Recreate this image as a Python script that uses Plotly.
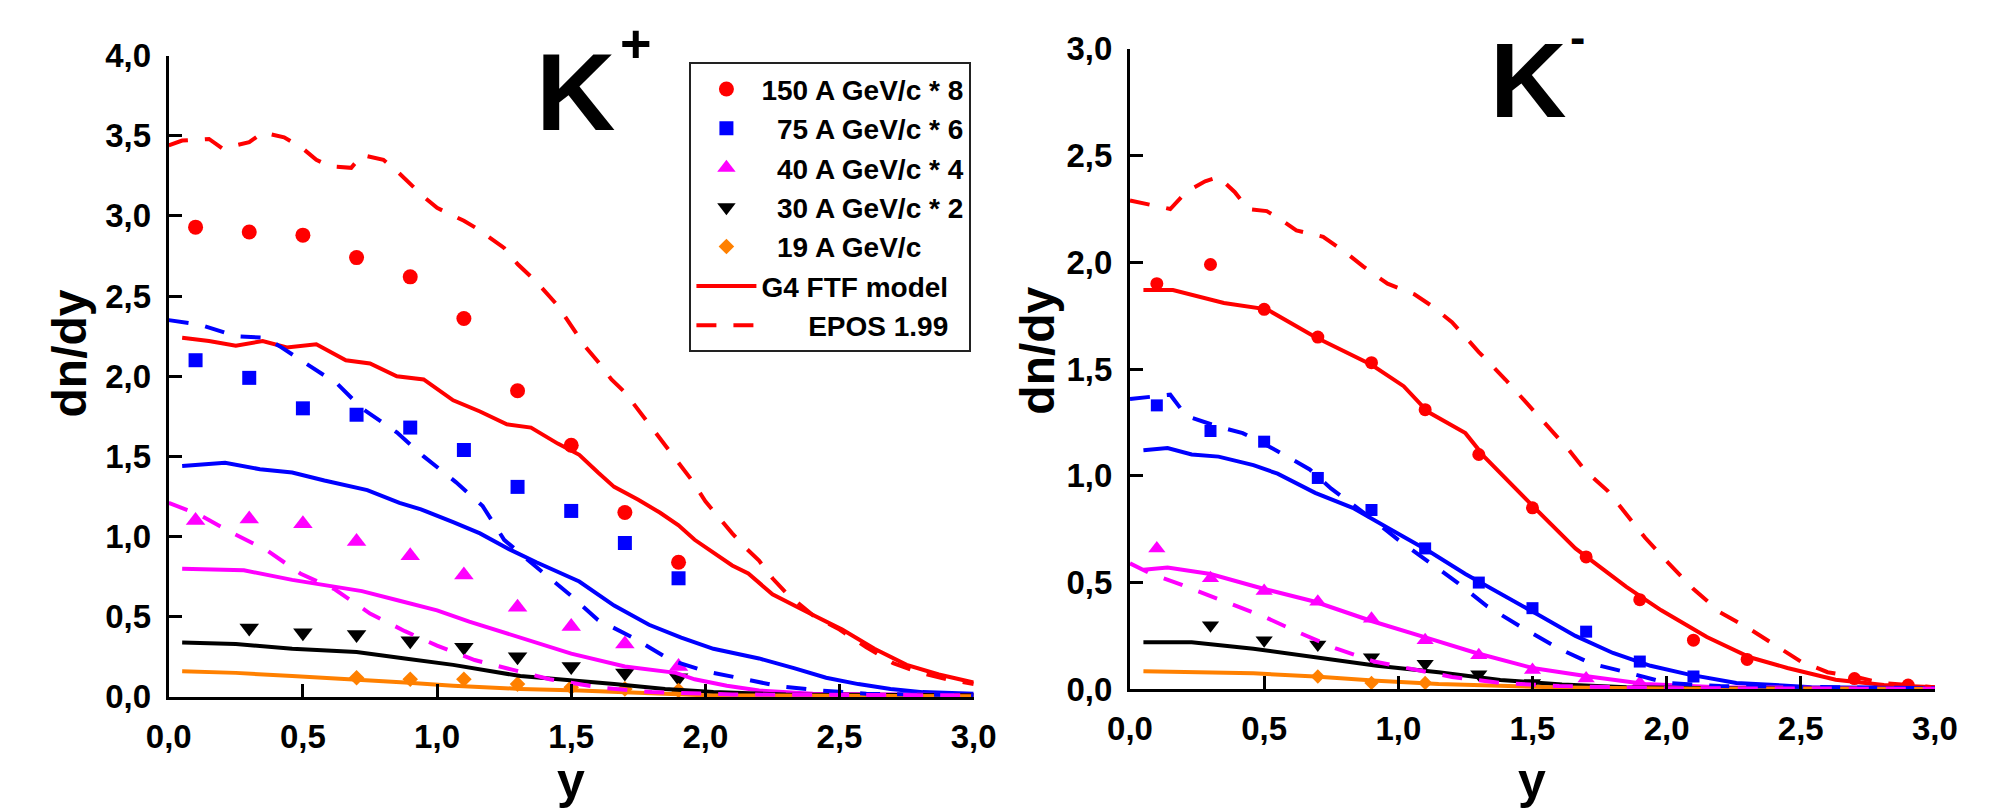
import plotly.graph_objects as go

FONT = "Liberation Sans"
NARROW = "Liberation Sans Narrow, Liberation Sans"
W, H = 1990, 811

RED, BLUE, MAG, BLK, ORG = "#ff0000", "#0000ff", "#ff00ff", "#000000", "#ff8000"

# ---------------- K+ (left panel) : data points ----------------
kp_x10 = [0.1, 0.3, 0.5, 0.7, 0.9, 1.1, 1.3, 1.5, 1.7, 1.9]
kp_150 = [2.93, 2.90, 2.88, 2.74, 2.62, 2.36, 1.91, 1.57, 1.15, 0.84]
kp_75 = [2.10, 1.99, 1.80, 1.76, 1.68, 1.54, 1.31, 1.16, 0.96, 0.74]
kp_40 = [1.10, 1.11, 1.08, 0.97, 0.88, 0.76, 0.56, 0.44, 0.33, 0.19]
kp_30_x = [0.3, 0.5, 0.7, 0.9, 1.1, 1.3, 1.5, 1.7, 1.9]
kp_30 = [0.43, 0.40, 0.39, 0.35, 0.31, 0.25, 0.19, 0.15, 0.12]
kp_19_x = [0.7, 0.9, 1.1, 1.3, 1.5, 1.7, 1.9]
kp_19 = [0.12, 0.11, 0.11, 0.08, 0.06, 0.05, 0.04]

# K+ : G4 FTF model (solid)
kp_g4_150_x = [0.05, 0.15, 0.25, 0.35, 0.44, 0.55, 0.66, 0.75, 0.85, 0.95, 1.06, 1.16, 1.26, 1.35, 1.45, 1.53,
               1.60, 1.66, 1.75, 1.83, 1.90, 1.96, 2.03, 2.10, 2.16, 2.25, 2.39, 2.51, 2.63, 2.75, 2.87, 3.0]
kp_g4_150_y = [2.24, 2.22, 2.19, 2.22, 2.18, 2.20, 2.10, 2.08, 2.00, 1.98, 1.85, 1.78, 1.70, 1.68, 1.58, 1.51,
               1.40, 1.31, 1.23, 1.15, 1.07, 0.98, 0.90, 0.82, 0.77, 0.64, 0.52, 0.42, 0.30, 0.20, 0.14, 0.09]
kp_g4_75_x = [0.05, 0.21, 0.34, 0.46, 0.58, 0.74, 0.86, 0.94, 1.06, 1.16, 1.27, 1.37, 1.53, 1.66, 1.79, 1.91,
              2.03, 2.20, 2.33, 2.45, 2.57, 2.69, 2.81, 3.0]
kp_g4_75_y = [1.44, 1.46, 1.42, 1.40, 1.35, 1.29, 1.21, 1.17, 1.09, 1.02, 0.92, 0.84, 0.72, 0.57, 0.45, 0.37,
              0.30, 0.24, 0.18, 0.12, 0.08, 0.05, 0.03, 0.02]
kp_g4_40_x = [0.05, 0.28, 0.46, 0.72, 0.86, 1.00, 1.12, 1.27, 1.40, 1.50, 1.70, 1.89, 1.96, 2.08, 2.20, 2.40, 3.0]
kp_g4_40_y = [0.80, 0.79, 0.73, 0.66, 0.60, 0.54, 0.47, 0.39, 0.32, 0.27, 0.19, 0.15, 0.11, 0.07, 0.04, 0.02, 0.01]
kp_g4_30_x = [0.05, 0.25, 0.46, 0.70, 0.88, 1.06, 1.31, 1.53, 1.66, 1.85, 2.03, 2.30, 3.0]
kp_g4_30_y = [0.34, 0.33, 0.30, 0.28, 0.24, 0.20, 0.13, 0.10, 0.08, 0.05, 0.03, 0.015, 0.01]
kp_g4_19_x = [0.05, 0.25, 0.46, 0.70, 0.88, 1.06, 1.31, 1.53, 1.80, 2.00, 3.0]
kp_g4_19_y = [0.16, 0.15, 0.13, 0.11, 0.09, 0.07, 0.05, 0.04, 0.02, 0.01, 0.005]

# K+ : EPOS 1.99 (dashed)
kp_ep_150_x = [0.0, 0.05, 0.15, 0.20, 0.30, 0.35, 0.43, 0.50, 0.55, 0.60, 0.68, 0.72, 0.80, 0.85, 0.95, 1.00,
               1.10, 1.15, 1.20, 1.25, 1.30, 1.37, 1.45, 1.50, 1.55, 1.60, 1.65, 1.70, 1.75, 1.80, 1.85, 1.90,
               1.95, 2.00, 2.05, 2.10, 2.15, 2.20, 2.25, 2.30, 2.35, 2.40, 2.50, 2.60, 2.70, 2.80, 2.90, 3.0]
kp_ep_150_y = [3.44, 3.47, 3.48, 3.42, 3.46, 3.52, 3.49, 3.42, 3.35, 3.31, 3.30, 3.38, 3.35, 3.28, 3.12, 3.05,
               2.97, 2.92, 2.86, 2.80, 2.70, 2.59, 2.44, 2.32, 2.19, 2.09, 1.98, 1.90, 1.79, 1.69, 1.58, 1.46,
               1.35, 1.22, 1.12, 1.02, 0.93, 0.85, 0.74, 0.65, 0.58, 0.51, 0.42, 0.31, 0.21, 0.15, 0.11, 0.08]
kp_ep_75_x = [0.0, 0.12, 0.25, 0.36, 0.42, 0.50, 0.63, 0.72, 0.85, 0.95, 1.07, 1.17, 1.25, 1.37, 1.50, 1.60,
              1.73, 1.87, 2.00, 2.15, 2.28, 2.43, 2.60, 3.0]
kp_ep_75_y = [2.35, 2.32, 2.25, 2.24, 2.18, 2.09, 1.95, 1.80, 1.65, 1.50, 1.34, 1.19, 0.98, 0.81, 0.63, 0.48,
              0.37, 0.23, 0.16, 0.11, 0.065, 0.04, 0.02, 0.01]
kp_ep_40_x = [0.0, 0.11, 0.24, 0.37, 0.49, 0.62, 0.75, 0.88, 1.00, 1.14, 1.28, 1.42, 1.60, 1.80, 2.10, 3.0]
kp_ep_40_y = [1.21, 1.14, 1.02, 0.91, 0.77, 0.67, 0.52, 0.41, 0.32, 0.23, 0.17, 0.11, 0.06, 0.03, 0.015, 0.01]

# ---------------- K- (right panel) : data points ----------------
km_150_x = [0.1, 0.3, 0.5, 0.7, 0.9, 1.1, 1.3, 1.5, 1.7, 1.9, 2.1, 2.3, 2.7, 2.9]
km_150 = [1.90, 1.99, 1.78, 1.65, 1.53, 1.31, 1.10, 0.85, 0.62, 0.42, 0.23, 0.14, 0.05, 0.02]
km_75_x = [0.1, 0.3, 0.5, 0.7, 0.9, 1.1, 1.3, 1.5, 1.7, 1.9, 2.1]
km_75 = [1.33, 1.21, 1.16, 0.99, 0.84, 0.66, 0.50, 0.38, 0.27, 0.13, 0.06]
km_40_x = [0.1, 0.3, 0.5, 0.7, 0.9, 1.1, 1.3, 1.5, 1.7, 1.9]
km_40 = [0.66, 0.52, 0.46, 0.41, 0.33, 0.23, 0.16, 0.09, 0.05, 0.03]
km_30_x = [0.3, 0.5, 0.7, 0.9, 1.1, 1.3, 1.5]
km_30 = [0.30, 0.23, 0.21, 0.15, 0.12, 0.07, 0.03]
km_19_x = [0.7, 0.9, 1.1]
km_19 = [0.06, 0.03, 0.03]

# K- : G4 FTF model (solid)
km_g4_150_x = [0.05, 0.16, 0.35, 0.51, 0.69, 0.90, 1.02, 1.11, 1.25, 1.32, 1.50, 1.66, 1.85, 1.98, 2.15, 2.31,
               2.45, 2.63, 2.81, 3.0]
km_g4_150_y = [1.87, 1.87, 1.81, 1.78, 1.65, 1.52, 1.42, 1.30, 1.20, 1.09, 0.86, 0.66, 0.48, 0.37, 0.245, 0.15,
               0.10, 0.045, 0.02, 0.01]
km_g4_75_x = [0.05, 0.14, 0.23, 0.33, 0.46, 0.55, 0.69, 0.83, 0.97, 1.11, 1.25, 1.38, 1.52, 1.66, 1.80, 1.94,
              2.08, 2.26, 2.54, 3.0]
km_g4_75_y = [1.12, 1.13, 1.10, 1.09, 1.05, 1.01, 0.92, 0.85, 0.75, 0.65, 0.54, 0.45, 0.35, 0.25, 0.17, 0.11,
              0.07, 0.03, 0.01, 0.005]
km_g4_40_x = [0.05, 0.14, 0.30, 0.50, 0.69, 0.90, 1.11, 1.29, 1.50, 1.71, 1.92, 2.19, 3.0]
km_g4_40_y = [0.56, 0.57, 0.54, 0.47, 0.41, 0.32, 0.24, 0.17, 0.10, 0.06, 0.025, 0.01, 0.003]
km_g4_30_x = [0.05, 0.23, 0.46, 0.69, 0.92, 1.15, 1.38, 1.61, 1.85, 2.20, 3.0]
km_g4_30_y = [0.22, 0.22, 0.19, 0.15, 0.11, 0.08, 0.044, 0.022, 0.01, 0.005, 0.002]
km_g4_19_x = [0.05, 0.46, 0.69, 0.92, 1.15, 1.38, 1.61, 2.00, 3.0]
km_g4_19_y = [0.085, 0.075, 0.06, 0.04, 0.025, 0.015, 0.008, 0.004, 0.001]

# K- : EPOS 1.99 (dashed)
km_ep_150_x = [0.0, 0.08, 0.15, 0.21, 0.28, 0.33, 0.39, 0.44, 0.51, 0.55, 0.62, 0.72, 0.81, 0.87, 0.96, 1.06,
               1.12, 1.20, 1.30, 1.40, 1.51, 1.63, 1.70, 1.78, 1.92, 2.00, 2.10, 2.20, 2.30, 2.40, 2.50, 2.60,
               2.70, 2.80, 3.0]
km_ep_150_y = [2.29, 2.27, 2.25, 2.33, 2.38, 2.40, 2.33, 2.25, 2.24, 2.21, 2.15, 2.12, 2.04, 1.98, 1.90, 1.85,
               1.80, 1.72, 1.58, 1.45, 1.30, 1.13, 1.02, 0.93, 0.71, 0.60, 0.47, 0.36, 0.29, 0.21, 0.13, 0.08,
               0.06, 0.03, 0.01]
km_ep_75_x = [0.0, 0.09, 0.15, 0.21, 0.33, 0.42, 0.50, 0.60, 0.67, 0.75, 0.90, 1.00, 1.10, 1.22, 1.33, 1.46,
              1.60, 1.72, 1.85, 2.00, 2.20, 3.0]
km_ep_75_y = [1.36, 1.37, 1.38, 1.28, 1.23, 1.20, 1.15, 1.08, 1.03, 0.94, 0.80, 0.70, 0.61, 0.50, 0.39, 0.29,
              0.19, 0.12, 0.08, 0.03, 0.015, 0.005]
km_ep_40_x = [0.0, 0.08, 0.17, 0.25, 0.38, 0.50, 0.64, 0.77, 0.91, 1.05, 1.20, 1.38, 1.60, 2.00, 3.0]
km_ep_40_y = [0.59, 0.54, 0.50, 0.46, 0.40, 0.34, 0.26, 0.19, 0.13, 0.095, 0.058, 0.03, 0.015, 0.005, 0.002]

legend_names = ["150 A GeV/c * 8", "\u200b\u200775 A GeV/c * 6", "\u200b\u200740 A GeV/c * 4",
                "\u200b\u200730 A GeV/c * 2", "\u200b\u200719 A GeV/c", "G4 FTF model",
                "\u200b\u2007\u2007\u2007EPOS 1.99"]

fig = go.Figure()


def add_markers(xs, ys, sym, color, size, name, ax, show):
    fig.add_trace(go.Scatter(
        x=xs, y=ys, mode="markers", name=name, showlegend=show, legendgroup=name if show else None,
        marker=dict(symbol=sym, color=color, size=size, line=dict(width=0)),
        xaxis="x" if ax == 1 else "x2", yaxis="y" if ax == 1 else "y2", cliponaxis=False))


def add_line(xs, ys, color, dash, ax, name=None, show=False):
    fig.add_trace(go.Scatter(
        x=xs, y=ys, mode="lines", name=name or "", showlegend=show, legendgroup=name if show else None,
        line=dict(color=color, width=4, dash=dash),
        xaxis="x" if ax == 1 else "x2", yaxis="y" if ax == 1 else "y2"))


DASH = "20px,17px"

# left markers (legend entries)
add_markers(kp_x10, kp_150, "circle", RED, 15, legend_names[0], 1, True)
add_markers(kp_x10, kp_75, "square", BLUE, 14, legend_names[1], 1, True)
add_markers(kp_x10, kp_40, "triangle-up", MAG, 17, legend_names[2], 1, True)
add_markers(kp_30_x, kp_30, "triangle-down", BLK, 17, legend_names[3], 1, True)
add_markers(kp_19_x, kp_19, "diamond", ORG, 12, legend_names[4], 1, True)
# right markers
add_markers(km_150_x, km_150, "circle", RED, 13, None, 2, False)
add_markers(km_75_x, km_75, "square", BLUE, 12, None, 2, False)
add_markers(km_40_x, km_40, "triangle-up", MAG, 15, None, 2, False)
add_markers(km_30_x, km_30, "triangle-down", BLK, 15, None, 2, False)
add_markers(km_19_x, km_19, "diamond", ORG, 11, None, 2, False)

# lines
add_line(kp_g4_150_x, kp_g4_150_y, RED, "solid", 1, legend_names[5], True)
add_line(kp_ep_150_x, kp_ep_150_y, RED, DASH, 1, legend_names[6], True)
add_line(kp_g4_75_x, kp_g4_75_y, BLUE, "solid", 1)
add_line(kp_g4_40_x, kp_g4_40_y, MAG, "solid", 1)
add_line(kp_g4_30_x, kp_g4_30_y, BLK, "solid", 1)
add_line(kp_g4_19_x, kp_g4_19_y, ORG, "solid", 1)
add_line(kp_ep_75_x, kp_ep_75_y, BLUE, DASH, 1)
add_line(kp_ep_40_x, kp_ep_40_y, MAG, DASH, 1)

add_line(km_g4_150_x, km_g4_150_y, RED, "solid", 2)
add_line(km_g4_75_x, km_g4_75_y, BLUE, "solid", 2)
add_line(km_g4_40_x, km_g4_40_y, MAG, "solid", 2)
add_line(km_g4_30_x, km_g4_30_y, BLK, "solid", 2)
add_line(km_g4_19_x, km_g4_19_y, ORG, "solid", 2)
add_line(km_ep_150_x, km_ep_150_y, RED, DASH, 2)
add_line(km_ep_75_x, km_ep_75_y, BLUE, DASH, 2)
add_line(km_ep_40_x, km_ep_40_y, MAG, DASH, 2)

tickfont = dict(family=FONT, size=33, color="black", weight="bold")
axis_common = dict(showline=True, linewidth=3, linecolor="black", ticks="inside", ticklen=13, tickwidth=3,
                   tickcolor="black", showgrid=False, zeroline=False, tickformat=".1f", dtick=0.5, tick0=0,
                   tickfont=tickfont, fixedrange=True, ticklabelstandoff=8)


def px(xp):
    return xp / W


def py(yp):
    return 1 - yp / H


fig.update_layout(
    width=W, height=H, margin=dict(l=0, r=0, t=0, b=0), paper_bgcolor="white", plot_bgcolor="white",
    separators=",.",
    xaxis=dict(domain=[px(141), px(965)], range=[0, 3], anchor="y", **axis_common),
    yaxis=dict(domain=[py(703), py(31)], range=[0, 4], anchor="x", **axis_common),
    xaxis2=dict(domain=[px(1125), px(1949)], range=[0, 3], anchor="y2", **axis_common),
    yaxis2=dict(domain=[py(695), py(24)], range=[0, 3], anchor="x2", **axis_common),
    legend=dict(x=px(674), y=py(38), xanchor="left", yanchor="top", bordercolor="#222222", borderwidth=2,
                bgcolor="white", font=dict(family=FONT, size=28, color="black", weight="bold"),
                itemwidth=60, tracegroupgap=0, traceorder="grouped", itemsizing="trace"),
)

ann_font = dict(color="black", weight="bold")
annotations = [
    dict(text="K", x=px(557), y=py(69), font=dict(family=NARROW, size=110, **ann_font)),
    dict(text="+", x=px(619), y=py(18), font=dict(family=FONT, size=54, **ann_font)),
    dict(text="K", x=px(1533), y=py(57), font=dict(family=NARROW, size=106, **ann_font)),
    dict(text="-", x=px(1583), y=py(12), font=dict(family=FONT, size=46, **ann_font)),
    dict(text="dn/dy", x=px(39), y=py(343), textangle=-90, font=dict(family=FONT, size=48, **ann_font)),
    dict(text="dn/dy", x=px(1030), y=py(340), textangle=-90, font=dict(family=FONT, size=48, **ann_font)),
    dict(text="y", x=px(553), y=py(791), font=dict(family=FONT, size=50, **ann_font)),
    dict(text="y", x=px(1537), y=py(791), font=dict(family=FONT, size=50, **ann_font)),
]
for a in annotations:
    a.update(xref="paper", yref="paper", xanchor="center", yanchor="middle", showarrow=False)
fig.update_layout(annotations=annotations)

fig.write_html("out.html")
